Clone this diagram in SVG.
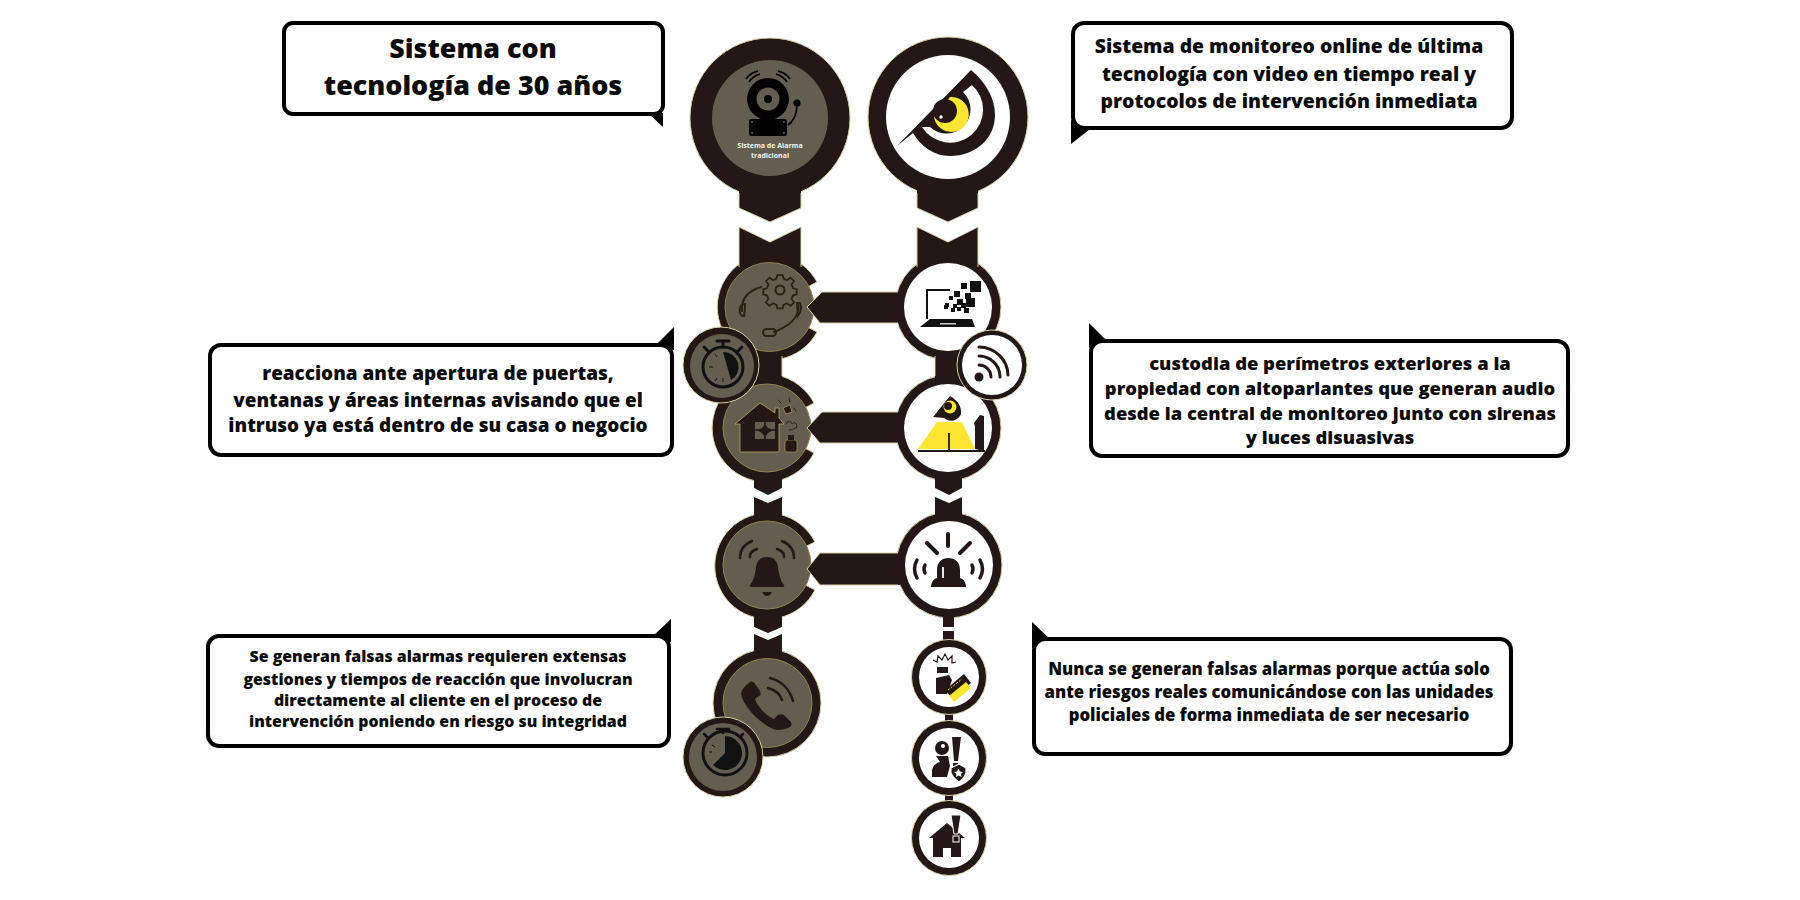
<svg xmlns="http://www.w3.org/2000/svg" width="1800" height="900" viewBox="0 0 1800 900">
<style>
text{font-family:"Open Sans","Noto Sans","Liberation Sans",sans-serif;font-weight:800;fill:#0b0b0b;text-anchor:middle}
.t1{font-size:26.900px}.t2{font-size:19.400px}.t3{font-size:18.900px}.t4{font-size:18.400px}.t5{font-size:15.900px}.t6{font-size:16.700px}
.cap{font-size:7px;font-weight:700;fill:#f4f2ea}
.b{fill:#fff;stroke:#000;stroke-width:4}
.k{fill:#000}
.d{fill:#231815}
.ds{fill:#231815;stroke:#d9cfa5;stroke-width:1}
.e{fill:none;stroke:#d9cfa5;stroke-width:1}
.g{fill:#645e51;stroke:#8f8450;stroke-width:1}
.w{fill:#fff}
.y{fill:#fde633}
.l{fill:none;stroke:#231815;stroke-linecap:round}
.o{fill:none;stroke:#2a2312;stroke-width:2;stroke-linecap:round}
.gf{fill:#645e51}
</style>

<g id="bubble-1"><path class="k" d="M648 113L663 113L663 127Z"/><rect class="b" x="284" y="23" width="379" height="91" rx="9"/>
<text class="t1" x="473" y="58">Sistema con</text><text class="t1" x="473" y="95">tecnología de 30 años</text></g>
<g id="bubble-2"><path class="k" d="M1071 120L1071 144L1090 129Z"/><rect class="b" x="1073" y="23" width="439" height="105" rx="11"/>
<text class="t2" x="1289" y="53">Sistema de monitoreo online de última</text><text class="t2" x="1289" y="81">tecnología con video en tiempo real y</text><text class="t2" x="1289" y="108">protocolos de intervención inmediata</text></g>
<g id="bubble-3"><path class="k" d="M655 346L674 327L674 350Z"/><rect class="b" x="210" y="345" width="462" height="110" rx="11"/>
<text class="t3" x="438" y="380">reacciona ante apertura de puertas,</text><text class="t3" x="438" y="407">ventanas y áreas internas avisando que el</text><text class="t3" x="438" y="432">intruso ya está dentro de su casa o negocio</text></g>
<g id="bubble-4"><path class="k" d="M1089 323L1089 348L1108 342Z"/><rect class="b" x="1091" y="341" width="477" height="115" rx="11"/>
<text class="t4" x="1330" y="370">custodia de perímetros exteriores a la</text><text class="t4" x="1330" y="395">propiedad con altoparlantes que generan audio</text><text class="t4" x="1330" y="420">desde la central de monitoreo junto con sirenas</text><text class="t4" x="1330" y="444">y luces disuasivas</text></g>
<g id="bubble-5"><path class="k" d="M652 637L671 619L671 642Z"/><rect class="b" x="208" y="636" width="461" height="110" rx="11"/>
<text class="t5" x="438" y="662">Se generan falsas alarmas requieren extensas</text><text class="t5" x="438" y="685">gestiones y tiempos de reacción que involucran</text><text class="t5" x="438" y="706">directamente al cliente en el proceso de</text><text class="t5" x="438" y="727">intervención poniendo en riesgo su integridad</text></g>
<g id="bubble-6"><path class="k" d="M1032 622L1032 648L1051 640Z"/><rect class="b" x="1034" y="639" width="477" height="115" rx="11"/>
<text class="t6" x="1269" y="675">Nunca se generan falsas alarmas porque actúa solo</text><text class="t6" x="1269" y="698">ante riesgos reales comunicándose con las unidades</text><text class="t6" x="1269" y="721">policiales de forma inmediata de ser necesario</text></g>

<g id="node-alarma">
<circle class="ds" cx="770" cy="118" r="80"/><circle cx="770" cy="118" r="58" fill="#645e51"/>
<circle cx="768" cy="99" r="21" class="k"/><circle cx="768" cy="99" r="11.5" class="gf"/><circle cx="768" cy="99" r="4" class="k"/>
<path d="M746 79Q750 73 758 71M749 82Q753 76 760 74M790 79Q786 73 778 71M787 82Q783 76 776 74" fill="none" stroke="#000" stroke-width="1.6"/>
<circle cx="797" cy="103" r="3.6" class="k"/><path d="M797 106Q796 120 788 125" fill="none" stroke="#000" stroke-width="1.8"/>
<rect x="749" y="119" width="38" height="17" rx="2" class="k"/>
<g class="gf"><circle cx="752" cy="122" r="1"/><circle cx="784" cy="122" r="1"/><circle cx="752" cy="133" r="1"/><circle cx="784" cy="133" r="1"/></g>
<text class="cap" x="770" y="148">Sistema de Alarma</text><text class="cap" x="770" y="158">tradicional</text>
</g>
<g id="node-monitoreo">
<circle class="ds" cx="948" cy="117" r="80"/><circle cx="948" cy="117" r="62" class="w"/>
<path class="d" d="M897 146L971 70C987 83 995 100 995 115C995 139 975 156 950 156C935 156 921 147 913 133Z"/>
<path class="w" d="M922 127A33 33 0 1 0 972 85L963 92A24 24 0 1 1 930 127Z"/>
<path class="y" d="M950 97A17.500 17.500 0 1 1 934 117Z"/>
<circle class="d" cx="945" cy="111" r="12"/><circle class="w" cx="941" cy="117" r="1.7"/>
</g>

<g id="node-soporte">
<path class="ds" d="M770 307L817 282A53 53 0 1 0 817 332Z"/><circle class="g" cx="769.500" cy="307" r="44.500"/>
<path class="o" d="M761 287C748 291 741 299 742 311M745 304C740 304 739 309 740 313C741 316 742 316 744 316C745 311 745 308 745 304ZM798 304C800 314 794 324 774 332M797 303L800 303C802 308 801 312 798 316Z"/>
<rect class="o" x="763" y="329" width="13" height="7" rx="3.500"/>
<path class="o" transform="translate(780 290) scale(.88) translate(-780 -290)" d="M777 273L783 273L784 277L788 279L792 276L796 280L793 284L795 288L799 289L799 295L795 296L793 300L796 304L792 308L788 305L784 307L783 311L777 311L776 307L772 305L768 308L764 304L767 300L765 296L761 295L761 289L765 288L767 284L764 280L768 276L772 279L776 277Z"/>
<circle class="o" cx="780" cy="290" r="4.500"/>
</g>
<g id="node-laptop">
<circle class="ds" cx="948" cy="307" r="53"/><circle class="w" cx="948" cy="307" r="44"/>
<path d="M950 290H927V319" fill="none" stroke="#111" stroke-width="2"/>
<path d="M930 319H972L975 327H920Z" fill="#111"/><rect x="940" y="323" width="16" height="1.500" fill="#ccc"/>
<g fill="#111"><rect x="970" y="281" width="11" height="11"/><rect x="961" y="283" width="6" height="6"/><rect x="954" y="291" width="6" height="6"/><rect x="965" y="293" width="6" height="6"/><rect x="966" y="298" width="9" height="9"/><rect x="957" y="299" width="6" height="6"/><rect x="949" y="296" width="4" height="4"/><rect x="945" y="303" width="4" height="4"/><rect x="953" y="304" width="4" height="4"/><rect x="961" y="303" width="5" height="5"/><rect x="964" y="308" width="5" height="5"/><rect x="951" y="308" width="4" height="4"/><rect x="944" y="305" width="4" height="4"/><rect x="957" y="307" width="4" height="4"/></g>
</g>
<g id="node-casa">
<path class="ds" d="M767 428L814 403A54 54 0 1 0 814 453Z"/><circle class="g" cx="767" cy="428" r="44"/>
<path d="M760 403L775 413V408H779V418L784 424H779V452H740V424H735Z" fill="#231815" stroke="#b9a960" stroke-width=".8"/>
<rect x="755" y="422" width="20" height="17" class="gf"/><path d="M765 422V439M755 430H775" stroke="#231815" stroke-width="1.500"/><path d="M765 424L768 428L773 430L768 433L765 437L762 433L757 430L762 428Z" class="d"/>
<path d="M783 408L790 405L792 412L786 414Z" class="d" stroke="#b9a960" stroke-width=".6"/>
<g class="o" style="stroke-width:1"><path d="M778 400L781 403M789 398L790 402M794 408L796 411M786 424Q790 418 792 424Q796 420 797 427Q792 431 789 430"/></g>
<rect x="785" y="440" width="12" height="12" rx="2" class="d" stroke="#b9a960" stroke-width=".6"/><rect x="788" y="435" width="6" height="5" class="d"/>
</g>
<g id="node-perimetro">
<circle class="ds" cx="948" cy="428" r="53"/><circle class="w" cx="948" cy="428" r="44"/>
<path class="y" d="M937 422H962L975 449H918Z"/>
<path d="M949 433V450M918 451H985" stroke="#231815" stroke-width="1.800"/>
<path class="d" d="M975 449V427L974 423L980 415L984 416V451Z"/>
<path class="d" d="M933 417L950 396C957 400 962 406 961 414C958 421 950 423 944 418Z"/>
<circle class="y" cx="950" cy="407" r="6.500"/><circle class="d" cx="948" cy="406" r="4"/>
</g>
<g id="node-campana">
<path class="ds" d="M767 565L815 542A53 53 0 1 0 815 590Z"/><circle class="g" cx="767" cy="565" r="44"/>
<path class="d" d="M767 557C774 557 777 561 778 567C779 576 781 581 784 585Q785 587 783 587H751Q749 587 750 585C753 581 755 576 756 567C757 561 760 557 767 557Z"/>
<path class="d" d="M762 592H772Q770 596 767 596Q764 596 762 592Z"/>
<path class="l" style="stroke-width:2.500" d="M740 558Q740 546 752 541M750 557Q749 552 757 549M794 558Q794 546 782 541M784 557Q785 552 777 549"/>
</g>
<g id="node-sirena">
<circle class="ds" cx="949" cy="565" r="53"/><circle class="w" cx="949" cy="565" r="44"/>
<path d="M948 534V546M927 543L937 553M970 543L960 553" stroke="#231815" stroke-width="4" stroke-linecap="round"/>
<path class="d" d="M937 578V570C937 562 942 558 948 558C955 558 960 562 960 570V578C964 579 966 583 966 587H931C931 583 933 579 937 578Z"/>
<path d="M943 578V567" stroke="#fff" stroke-width="1.800"/>
<path class="l" style="stroke-width:3.500" d="M917 560Q912 569 917 578M925 565Q923 569 925 573M980 560Q985 569 980 578M972 565Q974 569 972 573"/>
</g>
<g id="node-telefono">
<circle class="ds" cx="767" cy="703" r="54"/><circle class="g" cx="767.500" cy="703" r="44.500"/>
<path class="d" d="M741 694C741 690 746 685 750 682C752 681 754 682 755 684L760 691C761 693 761 695 759 696L755 699C757 706 766 716 774 719L778 715C780 714 782 714 784 715L790 721C792 723 792 725 790 727C787 729 782 730 778 730C768 730 744 710 741 694Z"/>
<path class="l" style="stroke-width:2.500" d="M770 678C782 681 790 690 793 701M768 688C775 690 780 694 782 700"/>
</g>

<g id="connectors">
<path class="d" d="M739 185H801V208L770 222L739 208Z"/><path class="e" d="M739 193V208L770 222L801 208V193"/>
<path class="d" d="M917 185H978V208L948 222L917 208Z"/><path class="e" d="M917 193V208L948 222L978 208V193"/>
<path class="d" d="M739 227L770 242L801 227V268L770 258L739 268Z"/><path class="e" d="M739 267V227L770 242L801 227V267"/>
<path class="d" d="M917 227L948 242L978 227V268L948 258L917 268Z"/><path class="e" d="M917 267V227L948 242L978 227V267"/>
<path class="d" d="M754 352H782V378H754Z"/><path class="e" d="M754 356V376M782 356V376"/>
<path class="d" d="M935 352H962V378H935Z"/><path class="e" d="M935 356V376"/>
<path class="d" d="M900 292H822L807 307L820 323H900Z"/><path class="e" d="M898 292H822L807 307L820 323H898"/>
<path class="d" d="M900 412H822L807 428L820 443H900Z"/><path class="e" d="M898 412H822L807 428L820 443H898"/>
<path class="d" d="M900 553H820L807 569L820 585H900Z"/><path class="e" d="M898 553H820L807 569L820 585H898"/>
<path class="d" d="M754 478H782V488L768 495L754 488Z"/><path class="d" d="M754 497L768 503L782 497V516H754Z"/>
<path class="d" d="M935 478H962V488L949 495L935 488Z"/><path class="d" d="M935 497L949 503L962 497V516H935Z"/>
<path class="d" d="M754 615H782V627L768 633L754 627Z"/><path class="d" d="M754 634L768 640L782 634V656H754Z"/>
<path class="d" d="M943 615H954V627H943Z"/><path class="d" d="M943 631H954V645H943Z"/>
<path class="d" d="M945 710H953V725H945Z"/><path class="d" d="M945 790H953V805H945Z"/>
</g>

<g id="node-reloj-1">
<circle class="ds" cx="721" cy="365" r="38"/><circle class="gf" cx="722" cy="366" r="32"/>
<circle cx="723" cy="367" r="20" fill="none" stroke="#111" stroke-width="3"/>
<path d="M723 352A15 15 0 0 1 731 380Z" fill="#111"/>
<path d="M717 341H729M723 341V347M708 351L704 347M738 351L742 347" stroke="#111" stroke-width="3" stroke-linecap="round"/>
<path d="M713 367H709M717 357L715 354M717 378L715 381M723 382V378" stroke="#111" stroke-width="1"/>
</g>
<g id="node-wifi">
<circle class="ds" cx="992" cy="365" r="35"/><circle class="w" cx="992" cy="365" r="30"/>
<circle cx="979" cy="377" r="4.500" fill="#231815"/>
<path d="M979 365A12 12 0 0 1 991 377M979 356A21 21 0 0 1 1000 377M979 347A29 29 0 0 1 1008 375" fill="none" stroke="#231815" stroke-width="3" stroke-linecap="round"/>
</g>
<g id="node-reloj-2">
<circle class="ds" cx="723" cy="757" r="40"/><circle class="gf" cx="723" cy="757" r="34"/>
<circle cx="725" cy="753" r="22" fill="none" stroke="#111" stroke-width="3"/>
<path d="M725 736A17 17 0 1 1 713 765L725 753Z" fill="#111"/>
<path d="M717 729H729M723 729V733M707 737L704 734M740 737L743 734" stroke="#111" stroke-width="2.500" stroke-linecap="round"/>
<path d="M712 745L715 747M709 752H712" stroke="#111" stroke-width="1"/>
</g>
<g id="node-intruso">
<circle class="ds" cx="949" cy="677" r="37.500"/><circle class="w" cx="949" cy="677" r="30"/>
<path d="M933 660L937 662L938 656L942 660L945 654L948 660L952 656L952 663L956 662" fill="none" stroke="#231815" stroke-width="1.200"/>
<rect x="937" y="667" width="11" height="6" class="d"/>
<path class="d" d="M936 678L949 675L952 680L947 694H936Z"/>
<path class="d" d="M945 690L964 674L971 683L952 698Z"/>
<path class="y" d="M949 696L966 682L971 688L954 702Z"/>
<path d="M948 690L962 679" stroke="#fde633" stroke-width="1" stroke-dasharray="2 1.500"/>
</g>
<g id="node-policia">
<circle class="ds" cx="949" cy="758" r="37.500"/><circle class="w" cx="949" cy="758" r="30"/>
<circle class="d" cx="942" cy="748" r="7"/><circle class="w" cx="943" cy="746" r="2"/>
<path class="d" d="M936 756H948L950 766L947 777H932V770Q933 764 940 762Z"/>
<path class="d" d="M952 737H961L958 761H954Z"/><rect class="d" x="953" y="763" width="5" height="5"/>
<path d="M951 768L959 764L966 768V773Q964 779 959 782Q953 778 951 773Z" fill="#231815" stroke="#fff" stroke-width="1.200"/>
<path class="w" d="M958.500 768.500L960 771.500L963 772L961 774L961.500 777L958.500 775.500L956 777L956.500 774L954 772L957 771.500Z"/>
</g>
<g id="node-casa-alerta">
<circle class="ds" cx="949" cy="838" r="37.500"/><circle class="w" cx="949" cy="838" r="30"/>
<path class="d" d="M947 823L965 838H961V857H951V848H943V857H933V838H929Z"/>
<path d="M951 815H961L958 834H954Z" fill="#231815" stroke="#fff" stroke-width="1"/><rect x="953" y="836" width="6" height="6" fill="#231815" stroke="#fff" stroke-width="1"/>
</g>
</svg>
